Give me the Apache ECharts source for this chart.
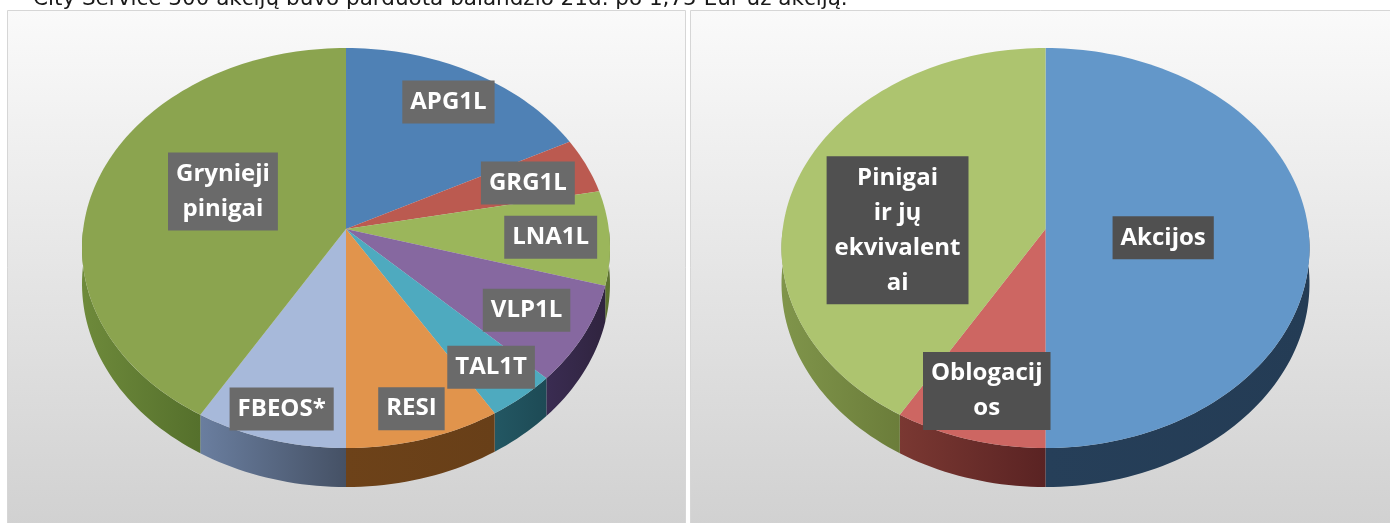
<!DOCTYPE html>
<html>
<head>
<meta charset="utf-8">
<script src="https://cdn.jsdelivr.net/npm/echarts@6/dist/echarts.min.js"></script>
<style>
  html, body { margin: 0; padding: 0; background: #fff; }
  #chart { width: 1390px; height: 523px; }
</style>
</head>
<body>
<div id="chart"></div>
<script>
// kairė diagrama - pozicijos
var leftNames = ['APG1L', 'GRG1L', 'LNA1L', 'VLP1L', 'TAL1T', 'RESI', 'FBEOS*', 'Grynieji pinigai'];
var leftValues = [17.4, 4.5, 7.6, 7.9, 3.9, 8.7, 8.5, 41.5];
// dešinė diagrama - turto klasės
var rightNames = ['Akcijos', 'Oblogacijos', 'Pinigai ir jų ekvivalentai'];
var rightValues = [50, 8.5, 41.5];
var noteText = 'City Service 300 akcijų buvo parduota balandžio 21d. po 1,75 Eur už akciją.';

// 3D pyrago projekcija (perspektyva)
var P = 0.095, RX = 262.8, RY = 198.2, CY = 229, DEPTH = 35.3;

function proj(cx, deg, r) {
  var a = deg * Math.PI / 180;
  var z = r * Math.cos(a), w = 1 + P * z;
  return [cx + RX * r * Math.sin(a) / w, CY - RY * z / w];
}

function rim(cx, a0, a1, drop) {
  var pts = [];
  var n = Math.max(2, Math.ceil((a1 - a0) / 1.5));
  for (var k = 0; k <= n; k++) {
    var a = a0 + (a1 - a0) * k / n;
    var p = proj(cx, a, 1);
    if (drop) p[1] += DEPTH / (1 + P * Math.cos(a * Math.PI / 180));
    pts.push(p);
  }
  return pts;
}

function angles(values, i) {
  var total = 0, start = 0;
  values.forEach(function (v, k) { total += v; if (k < i) start += v; });
  return [start / total * 360, (start + values[i]) / total * 360];
}

function pieSeries(cx, names, values, tops, sides, labelBg, labelPos, wrap) {
  var data = values.map(function (v, i) { return { name: names[i], value: [v] }; });
  return [
    {
      // šoninė sienelė
      type: 'custom', coordinateSystem: 'none', z: 2, silent: true, data: data,
      renderItem: function (params, api) {
        var a = angles(values, params.dataIndex);
        var a0 = Math.max(a[0], 90), a1 = Math.min(a[1], 270);
        if (a1 <= a0) return null;
        var pts = rim(cx, a0, a1, false).concat(rim(cx, a0, a1, true).reverse());
        var c = sides[params.dataIndex];
        return {
          type: 'polygon', shape: { points: pts },
          style: {
            fill: new echarts.graphic.LinearGradient(0, 0, 1, 0, [
              { offset: 0, color: c[0] }, { offset: 1, color: c[1] }
            ])
          }
        };
      }
    },
    {
      // viršutinė plokštuma
      type: 'custom', coordinateSystem: 'none', z: 3, silent: true, data: data,
      renderItem: function (params, api) {
        var a = angles(values, params.dataIndex);
        var pts = [proj(cx, 0, 0)].concat(rim(cx, a[0], a[1], false));
        return { type: 'polygon', shape: { points: pts }, style: { fill: tops[params.dataIndex] } };
      }
    },
    {
      // etiketės
      type: 'custom', coordinateSystem: 'none', z: 4, silent: true, data: data,
      renderItem: function (params, api) {
        var i = params.dataIndex;
        var a = angles(values, i);
        var lp = labelPos[i];
        var t = ((a[0] + a[1]) / 2 + lp[1]) * Math.PI / 180;
        var name = names[i];
        return {
          type: 'text',
          x: cx + RX * lp[0] * Math.sin(t),
          y: CY - RY * lp[0] * Math.cos(t),
          style: {
            text: wrap[name] || name,
            fill: '#ffffff',
            fontSize: 24,
            fontWeight: 'bold',
            fontFamily: '"Open Sans", sans-serif',
            align: 'center',
            verticalAlign: 'middle',
            lineHeight: 35,
            backgroundColor: labelBg,
            padding: [4, 8, 4, 8]
          }
        };
      }
    }
  ];
}

var wrapText = {
  'Grynieji pinigai': 'Grynieji\npinigai',
  'Pinigai ir jų ekvivalentai': 'Pinigai\nir jų\nekvivalent\nai',
  'Oblogacijos': 'Oblogacij\nos'
};

var panelFill = new echarts.graphic.LinearGradient(0, 0, 0, 1, [
  { offset: 0, color: '#fafafa' }, { offset: 1, color: '#cfcfcf' }
]);

var chart = echarts.init(document.getElementById('chart'));
chart.setOption({
  animation: false,
  graphic: [
    { type: 'rect', z: 0, shape: { x: 7.5, y: 10.5, width: 678, height: 540 }, style: { fill: panelFill, stroke: '#d6d6d6', lineWidth: 1 } },
    { type: 'rect', z: 0, shape: { x: 690.5, y: 10.5, width: 720, height: 540 }, style: { fill: panelFill, stroke: '#d6d6d6', lineWidth: 1 } },
    { type: 'text', z: 0, x: 33, y: 10, style: { text: noteText, fill: '#1a1a1a', font: '21.5px "DejaVu Sans"', verticalAlign: 'bottom' } }
  ],
  series: [].concat(
    pieSeries(346, leftNames, leftValues,
      ['#4f81b5', '#bb5a50', '#9bb65b', '#8668a0', '#4eaabf', '#e1944c', '#a7b9da', '#8ba44f'],
      [['#2e4e70', '#2e4e70'], ['#703530', '#703530'], ['#5d7230', '#5d7230'], ['#3a2c52', '#30243f'],
       ['#235763', '#1d4a55'], ['#6d4219', '#683f18'], ['#6a7e9f', '#455165'], ['#6e8a3b', '#55702c']],
      '#6a6a6a',
      [[0.75, 0], [0.73, 0.7], [0.78, 0.5], [0.8, 0.4], [0.89, 0], [0.94, 0.3], [0.94, -0.2], [0.505, 6.7]],
      wrapText),
    pieSeries(1045.5, rightNames, rightValues,
      ['#6397c9', '#cd6662', '#adc46f'],
      [['#263f59', '#243c55'], ['#7a3832', '#5a2323'], ['#80954b', '#6b7d3a']],
      '#505050',
      [[0.45, 5.7], [0.847, 0], [0.563, -16]],
      wrapText)
  )
});
</script>
</body>
</html>
